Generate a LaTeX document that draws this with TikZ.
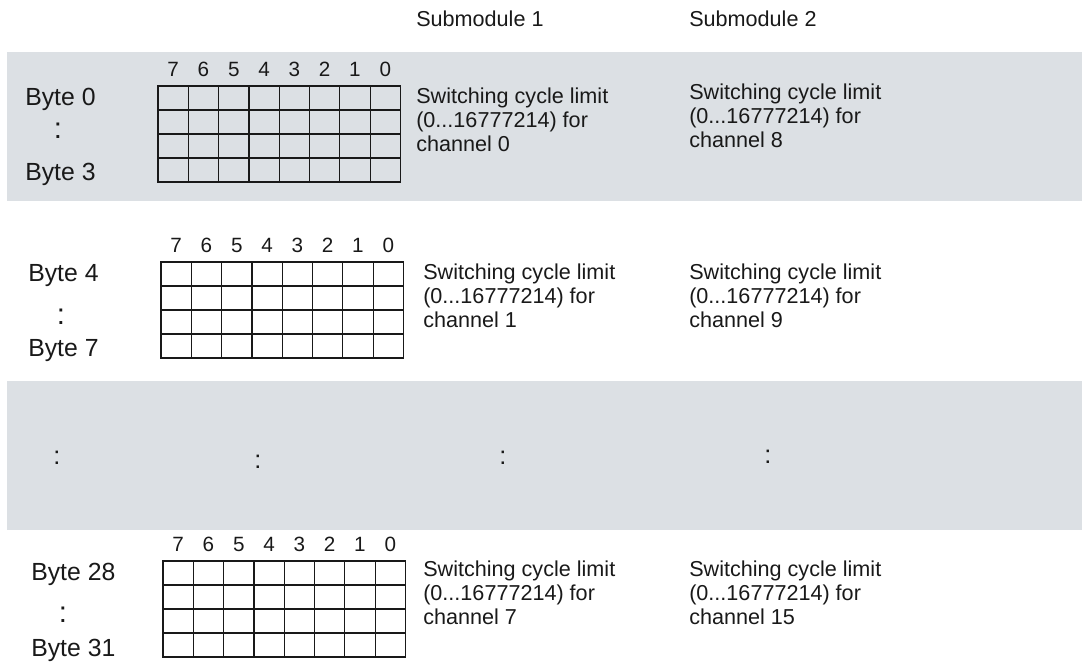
\documentclass[tikz,border=0pt]{standalone}
\usepackage{fontspec}
\setmainfont{Liberation Sans}
\definecolor{band}{RGB}{220,224,228}
\definecolor{ink}{RGB}{25,25,25}
\tikzset{
  gridline/.style={draw=ink, line width=0.9pt},
  bitnum/.style={anchor=base, inner sep=0pt, text=ink, font=\fontsize{15.5}{17}\selectfont},
  bodytxt/.style={anchor=base west, inner sep=0pt, text=ink, font=\fontsize{16.2}{18}\selectfont},
  bytelbl/.style={anchor=base west, inner sep=0pt, text=ink, font=\fontsize{18.6}{20}\selectfont},
  dotsep/.style={anchor=center, inner sep=0pt, text=ink, font=\fontsize{19}{20}\selectfont},
  bytedots/.style={anchor=center, inner sep=0pt, text=ink, font=\fontsize{22}{24}\selectfont},
  bytegrid/.pic={
    \draw[gridline] (0,0) rectangle (242.4,96);
    \foreach \i in {1,...,7} \draw[gridline] ({\i*30.3},0) -- ({\i*30.3},96);
    \foreach \j in {1,2,3} \draw[gridline] (0,{\j*24}) -- (242.4,{\j*24});
    \foreach \d [count=\k from 0] in {7,6,5,4,3,2,1,0}
      \node[bitnum] (-b\d) at ({(\k+0.5)*30.3},-10) {\d};
  }
}
\begin{document}
\begin{tikzpicture}[x=0.75pt,y=-0.75pt]
\useasboundingbox (0,0) rectangle (1082,661);
\fill[band] (7,52) rectangle (1082,201);
\fill[band] (7,381) rectangle (1082,530);
% headers
\node[bodytxt] (h1) at (416,26) {Submodule 1};
\node[bodytxt] (h2) at (689,26) {Submodule 2};
% row 1
\pic (g1) at (158,86) {bytegrid};
\node[bytelbl] (b0) at (25,105) {Byte 0};
\node[bytedots] (c1) at (58,131) {:};
\node[bytelbl] (b3) at (25,180) {Byte 3};
\node[bodytxt] (s1a) at (416,103) {Switching cycle limit};
\node[bodytxt] (s1b) at (416,127) {(0...16777214) for};
\node[bodytxt] (s1c) at (416,151) {channel 0};
\node[bodytxt] (t1a) at (689,99) {Switching cycle limit};
\node[bodytxt] (t1b) at (689,123) {(0...16777214) for};
\node[bodytxt] (t1c) at (689,147) {channel 8};
% row 2
\pic (g2) at (161,262) {bytegrid};
\node[bytelbl] (b4) at (28,281) {Byte 4};
\node[bytedots] (c2) at (61,317) {:};
\node[bytelbl] (b7) at (28,356) {Byte 7};
\node[bodytxt] (s2a) at (423,279) {Switching cycle limit};
\node[bodytxt] (s2b) at (423,303) {(0...16777214) for};
\node[bodytxt] (s2c) at (423,327) {channel 1};
\node[bodytxt] (t2a) at (689,279) {Switching cycle limit};
\node[bodytxt] (t2b) at (689,303) {(0...16777214) for};
\node[bodytxt] (t2c) at (689,327) {channel 9};
% dots row
\node[dotsep] (d1) at (57,458) {:};
\node[dotsep] (d2) at (258,462) {:};
\node[dotsep] (d3) at (503,458) {:};
\node[dotsep] (d4) at (768,457) {:};
% row 3
\pic (g3) at (163,561) {bytegrid};
\node[bytelbl] (b28) at (31,580) {Byte 28};
\node[bytedots] (c3) at (63,615) {:};
\node[bytelbl] (b31) at (31,656) {Byte 31};
\node[bodytxt] (s3a) at (423,576) {Switching cycle limit};
\node[bodytxt] (s3b) at (423,600) {(0...16777214) for};
\node[bodytxt] (s3c) at (423,624) {channel 7};
\node[bodytxt] (t3a) at (689,576) {Switching cycle limit};
\node[bodytxt] (t3b) at (689,600) {(0...16777214) for};
\node[bodytxt] (t3c) at (689,624) {channel 15};
\end{tikzpicture}
\end{document}
